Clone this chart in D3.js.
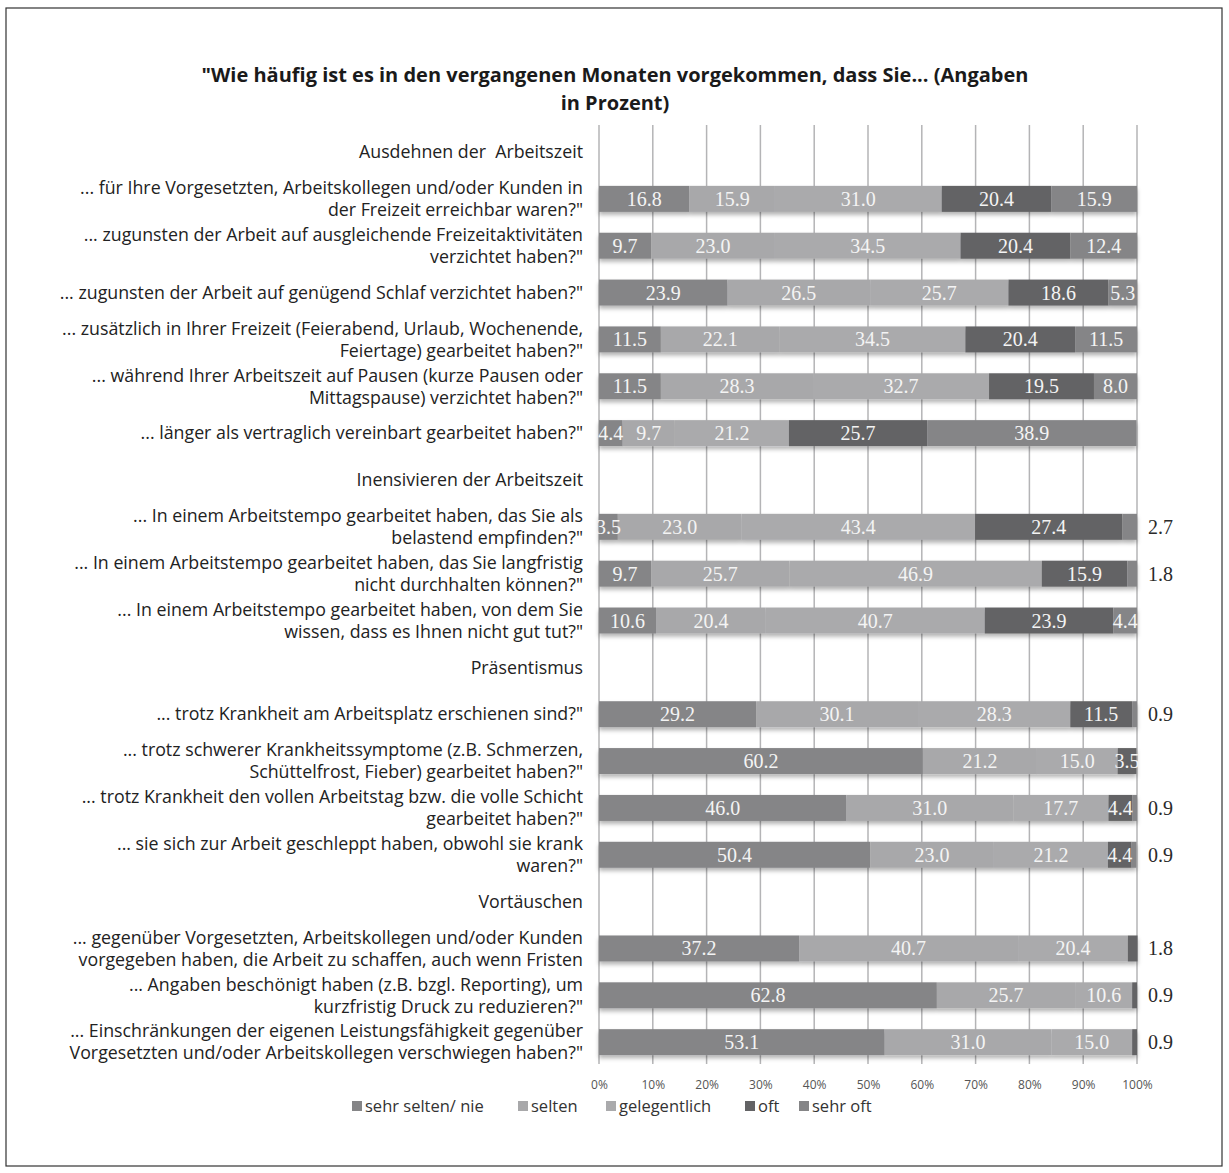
<!DOCTYPE html>
<html>
<head>
<meta charset="utf-8">
<script src="https://cdn.jsdelivr.net/npm/d3@7"></script>
<style>
  html, body { margin: 0; padding: 0; background: #fff; }
  svg { display: block; }
  text { white-space: pre; }
</style>
</head>
<body>
<svg id="chart" width="1229" height="1173"></svg>
<script>
// ---------------- DATA ----------------
const titleLines = ["\"Wie häufig ist es in den vergangenen Monaten vorgekommen, dass Sie... (Angaben", "in Prozent)"];

const categories = [
  "Ausdehnen der  Arbeitszeit",
  "... für Ihre Vorgesetzten, Arbeitskollegen und/oder Kunden in\nder Freizeit erreichbar waren?\"",
  "... zugunsten der Arbeit auf ausgleichende Freizeitaktivitäten\nverzichtet haben?\"",
  "... zugunsten der Arbeit auf genügend Schlaf verzichtet haben?\"",
  "... zusätzlich in Ihrer Freizeit (Feierabend, Urlaub, Wochenende,\nFeiertage) gearbeitet haben?\"",
  "... während Ihrer Arbeitszeit auf Pausen (kurze Pausen oder\nMittagspause) verzichtet haben?\"",
  "... länger als vertraglich vereinbart gearbeitet haben?\"",
  "Inensivieren der Arbeitszeit",
  "... In einem Arbeitstempo gearbeitet haben, das Sie als\nbelastend empfinden?\"",
  "... In einem Arbeitstempo gearbeitet haben, das Sie langfristig\nnicht durchhalten können?\"",
  "... In einem Arbeitstempo gearbeitet haben, von dem Sie\nwissen, dass es Ihnen nicht gut tut?\"",
  "Präsentismus",
  "... trotz Krankheit am Arbeitsplatz erschienen sind?\"",
  "... trotz schwerer Krankheitssymptome (z.B. Schmerzen,\nSchüttelfrost, Fieber) gearbeitet haben?\"",
  "... trotz Krankheit den vollen Arbeitstag bzw. die volle Schicht\ngearbeitet haben?\"",
  "... sie sich zur Arbeit geschleppt haben, obwohl sie krank\nwaren?\"",
  "Vortäuschen",
  "... gegenüber Vorgesetzten, Arbeitskollegen und/oder Kunden\nvorgegeben haben, die Arbeit zu schaffen, auch wenn Fristen",
  "... Angaben beschönigt haben (z.B. bzgl. Reporting), um\nkurzfristig Druck zu reduzieren?\"",
  "... Einschränkungen der eigenen Leistungsfähigkeit gegenüber\nVorgesetzten und/oder Arbeitskollegen verschwiegen haben?\""
];

const seriesNames = ["sehr selten/ nie", "selten", "gelegentlich", "oft", "sehr oft"];

const sehrSeltenNie = [null, 16.8, 9.7, 23.9, 11.5, 11.5, 4.4, null, 3.5, 9.7, 10.6, null, 29.2, 60.2, 46.0, 50.4, null, 37.2, 62.8, 53.1];
const selten        = [null, 15.9, 23.0, 26.5, 22.1, 28.3, 9.7, null, 23.0, 25.7, 20.4, null, 30.1, 21.2, 31.0, 23.0, null, 40.7, 25.7, 31.0];
const gelegentlich  = [null, 31.0, 34.5, 25.7, 34.5, 32.7, 21.2, null, 43.4, 46.9, 40.7, null, 28.3, 15.0, 17.7, 21.2, null, 20.4, 10.6, 15.0];
const oft           = [null, 20.4, 20.4, 18.6, 20.4, 19.5, 25.7, null, 27.4, 15.9, 23.9, null, 11.5, 3.5, 4.4, 4.4, null, 1.8, 0.9, 0.9];
const sehrOft       = [null, 15.9, 12.4, 5.3, 11.5, 8.0, 38.9, null, 2.7, 1.8, 4.4, null, 0.9, 0, 0.9, 0.9, null, 0, 0, 0];

const xTicks = [0, 10, 20, 30, 40, 50, 60, 70, 80, 90, 100];

// ---------------- STYLE ----------------
const colors = ["#858587", "#a8a8aa", "#aaaaac", "#636365", "#858587"];
const sansFont = "'Open Sans', Lato, sans-serif";
const serifFont = "'Liberation Serif', serif";

const svg = d3.select("#chart");

// border
svg.append("rect").attr("x", 6).attr("y", 8).attr("width", 1216).attr("height", 1158)
  .attr("fill", "#fff").attr("stroke", "#333").attr("stroke-width", 1.2);

// title
svg.append("g").selectAll("text").data(titleLines).join("text")
  .attr("x", 615).attr("y", (d, i) => 82 + i * 28)
  .attr("text-anchor", "middle")
  .attr("font-family", sansFont).attr("font-weight", "bold").attr("font-size", 20)
  .attr("fill", "#1a1a1a")
  .text(d => d);

const x = d3.scaleLinear().domain([0, 100]).range([599, 1137]);
const y = d3.scaleBand().domain(d3.range(categories.length)).range([128.6, 1065.6])
  .paddingInner(0.445).paddingOuter(0.2225);

// defs shadow
const defs = svg.append("defs");
const f = defs.append("filter").attr("id", "sh").attr("x", "-5%").attr("y", "-30%").attr("width", "110%").attr("height", "180%");
f.append("feDropShadow").attr("dx", 0).attr("dy", 3).attr("stdDeviation", 2).attr("flood-color", "#000").attr("flood-opacity", 0.3);

// gridlines
svg.append("g").selectAll("line").data(xTicks).join("line")
  .attr("x1", d => x(d)).attr("x2", d => x(d))
  .attr("y1", 125).attr("y2", 1064)
  .attr("stroke", "#b4b4b6").attr("stroke-width", 1.5);

// bottom axis
const axis = d3.axisBottom(x).tickValues(xTicks).tickFormat(d => d + "%").tickSize(0).tickPadding(0);
const ag = svg.append("g").attr("transform", "translate(0,1085)").call(axis);
ag.select(".domain").remove();
ag.selectAll("text").attr("font-family", sansFont).attr("font-size", 12).attr("fill", "#555").attr("dy", "0.32em");

// stacked data
const seriesArrays = [sehrSeltenNie, selten, gelegentlich, oft, sehrOft];
const rows = categories.map((c, i) => {
  const o = { i };
  seriesNames.forEach((s, k) => o[s] = seriesArrays[k][i] == null ? 0 : seriesArrays[k][i]);
  return o;
});
const stack = d3.stack().keys(seriesNames)(rows);

const barsG = svg.append("g").attr("filter", "url(#sh)");
stack.forEach((layer, k) => {
  barsG.append("g").selectAll("rect").data(layer.filter(d => d[1] - d[0] > 0)).join("rect")
    .attr("x", d => x(d[0]))
    .attr("width", d => x(d[1]) - x(d[0]))
    .attr("y", d => y(d.data.i))
    .attr("height", y.bandwidth())
    .attr("fill", colors[k]);
});

// value labels
const labelsG = svg.append("g");
stack.forEach((layer, k) => {
  layer.forEach(d => {
    const v = d[1] - d[0];
    if (!(v > 0)) return;
    const cy = y(d.data.i) + y.bandwidth() / 2;
    if (v >= 3) {
      labelsG.append("text")
        .attr("x", x((d[0] + d[1]) / 2)).attr("y", cy).attr("dy", "0.35em")
        .attr("text-anchor", "middle")
        .attr("font-family", serifFont).attr("font-size", 20)
        .attr("fill", "#f4f4f4")
        .text(v.toFixed(1));
    } else {
      labelsG.append("text")
        .attr("x", x(100) + 11).attr("y", cy).attr("dy", "0.35em")
        .attr("text-anchor", "start")
        .attr("font-family", serifFont).attr("font-size", 20)
        .attr("fill", "#2a2a2a")
        .text(v.toFixed(1));
    }
  });
});

// category labels
const catG = svg.append("g");
categories.forEach((c, i) => {
  const lines = c.split("\n");
  const cy = y(i) + y.bandwidth() / 2;
  const t = catG.append("text")
    .attr("text-anchor", "end")
    .attr("font-family", sansFont).attr("font-size", 17.8)
    .attr("fill", "#222");
  lines.forEach((ln, j) => {
    t.append("tspan").attr("x", 583)
      .attr("y", cy + (j - (lines.length - 1) / 2) * 22)
      .attr("dy", "0.35em")
      .text(ln);
  });
});

// legend
const legendX = [352, 518, 606, 745, 799];
const lg = svg.append("g").attr("transform", "translate(0,1106)");
seriesNames.forEach((s, k) => {
  lg.append("rect").attr("x", legendX[k]).attr("y", -5).attr("width", 10).attr("height", 10).attr("fill", colors[k]);
  lg.append("text").attr("x", legendX[k] + 13).attr("y", 0).attr("dy", "0.35em")
    .attr("font-family", sansFont).attr("font-size", 16.5).attr("fill", "#333").text(s);
});
</script>
</body>
</html>
